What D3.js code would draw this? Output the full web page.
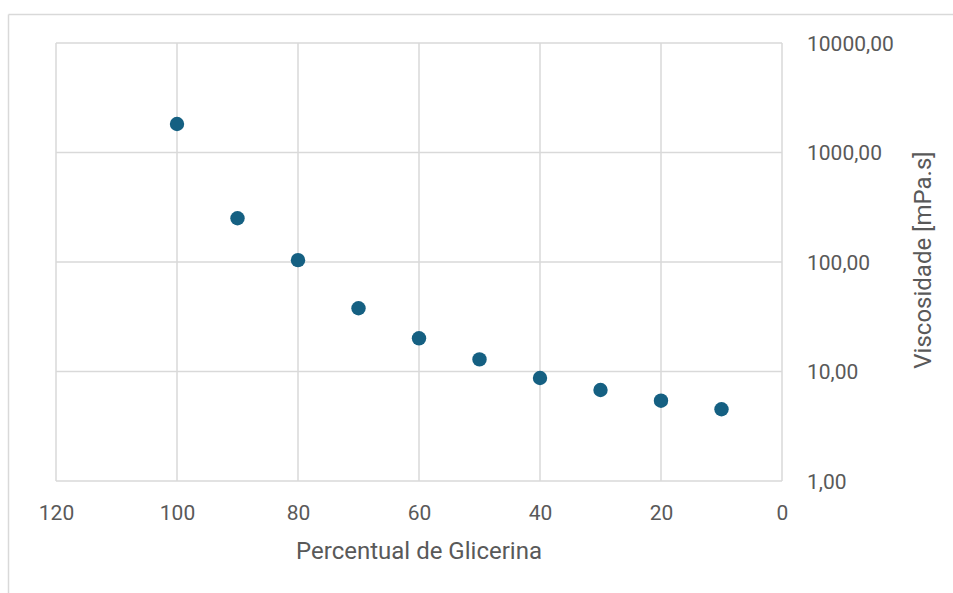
<!DOCTYPE html>
<html>
<head>
<meta charset="utf-8">
<script src="https://cdn.jsdelivr.net/npm/d3@7"></script>
<style>
  html, body { margin: 0; padding: 0; background: #fff; }
  svg { display: block; }
  text { font-family: Roboto, "Liberation Sans", sans-serif; fill: #595959; }
</style>
</head>
<body>
<svg id="chart" width="953" height="593"></svg>
<script>
// Glycerin percentage vs viscosity
const glycerinPct = [100, 90, 80, 70, 60, 50, 40, 30, 20, 10];
const viscosity = [1820, 251, 104, 37.8, 20.1, 12.9, 8.72, 6.78, 5.41, 4.52];
const xTicks = [120, 100, 80, 60, 40, 20, 0];
const yTicks = [1, 10, 100, 1000, 10000];
const xTitle = "Percentual de Glicerina";
const yTitle = "Viscosidade [mPa.s]";

const svg = d3.select("#chart");
const W = 953, H = 593;
const plot = { left: 56, right: 782, top: 43, bottom: 481 };
const gridColor = "#d9d9d9";

// outer chart-area frame (only top and left edges visible)
svg.append("line").attr("x1", 8.5).attr("x2", W).attr("y1", 14.5).attr("y2", 14.5)
  .attr("stroke", gridColor).attr("stroke-width", 1.5);
svg.append("line").attr("x1", 8.5).attr("x2", 8.5).attr("y1", 14.5).attr("y2", H)
  .attr("stroke", gridColor).attr("stroke-width", 1.5);

// reversed linear x, log y
const x = d3.scaleLinear().domain([120, 0]).range([plot.left, plot.right]);
const y = d3.scaleLog().domain([1, 10000]).range([plot.bottom, plot.top]);

// vertical gridlines
svg.append("g")
  .selectAll("line").data(xTicks).join("line")
  .attr("x1", d => x(d)).attr("x2", d => x(d))
  .attr("y1", plot.top).attr("y2", plot.bottom)
  .attr("stroke", gridColor).attr("stroke-width", 1.5);

// horizontal gridlines
svg.append("g")
  .selectAll("line").data(yTicks).join("line")
  .attr("x1", plot.left).attr("x2", plot.right)
  .attr("y1", d => y(d)).attr("y2", d => y(d))
  .attr("stroke", gridColor).attr("stroke-width", 1.5);

// x axis labels
const xAxis = d3.axisBottom(x).tickValues(xTicks).tickSize(0).tickPadding(0)
  .tickFormat(d3.format("d"));
const gx = svg.append("g").attr("transform", `translate(0,520)`).call(xAxis);
gx.select(".domain").remove();
gx.selectAll("text").attr("dy", 0).attr("y", 0)
  .style("font-size", "21px").style("font-family", "Roboto, sans-serif").attr("fill", "#595959");

// y axis labels on the right, comma decimal
const fmt = v => d3.format(".2f")(v).replace(".", ",");
const yAxis = d3.axisRight(y).tickValues(yTicks).tickSize(0).tickPadding(0).tickFormat(fmt);
const gy = svg.append("g").attr("transform", `translate(807,0)`).call(yAxis);
gy.select(".domain").remove();
gy.selectAll("text").attr("x", 0).attr("dy", "0.35em")
  .style("font-size", "21px").style("font-family", "Roboto, sans-serif").attr("fill", "#595959");

// axis titles
svg.append("text")
  .attr("x", (plot.left + plot.right) / 2).attr("y", 559)
  .attr("text-anchor", "middle").style("font-size", "24px")
  .text(xTitle);

svg.append("text")
  .attr("transform", `translate(931,260) rotate(-90)`)
  .attr("text-anchor", "middle").style("font-size", "24px")
  .text(yTitle);

// data points
svg.append("g")
  .selectAll("circle").data(glycerinPct.map((p, i) => ({ p, v: viscosity[i] }))).join("circle")
  .attr("cx", d => x(d.p)).attr("cy", d => y(d.v))
  .attr("r", 7.2)
  .attr("fill", "#156082");
</script>
</body>
</html>
